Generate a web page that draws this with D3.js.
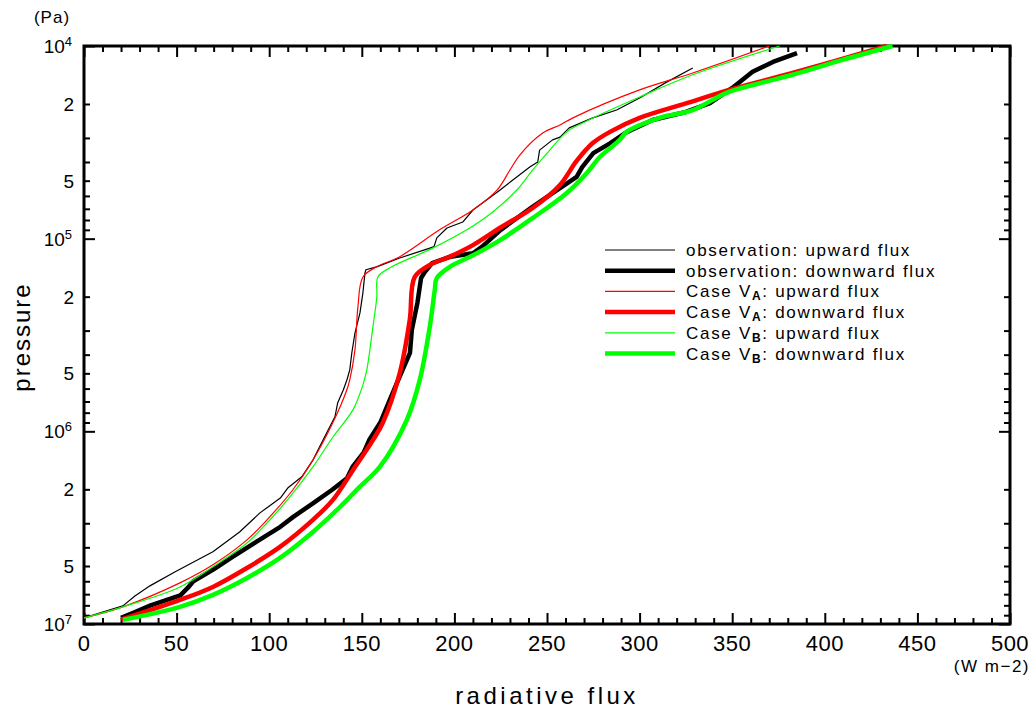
<!DOCTYPE html>
<html>
<head>
<meta charset="utf-8">
<script src="https://cdn.jsdelivr.net/npm/d3@7"></script>
<style>
  body { margin: 0; background: #fff; }
  text { font-family: "Liberation Sans", Arial, sans-serif; fill: #000; }
</style>
</head>
<body>
<div id="chart"></div>
<script>
// radiative flux (W m-2) vs pressure (Pa)
const obsUp = [
  [0, 9.3e6], [21, 8.05e6], [27.5, 7.15e6], [35.6, 6.34e6], [49, 5.37e6], [69.6, 4.22e6],
  [84, 3.33e6], [95, 2.65e6], [106, 2.22e6], [110, 1.97e6], [117.6, 1.72e6], [123.6, 1.41e6],
  [131, 1.02e6], [135.5, 8.4e5], [137, 7.1e5], [140, 6.1e5], [142, 5.4e5], [143.5, 4.8e5],
  [144.6, 3.92e5], [146.3, 3.09e5], [149, 2.43e5], [150.6, 1.91e5], [151.7, 1.51e5],
  [152.2, 1.45e5], [158, 1.40e5], [170.5, 1.26e5], [186.7, 1.12e5], [189, 1.10e5],
  [190.5, 9.9e4], [196, 8.8e4], [204.5, 8.2e4], [210, 7.1e4], [224.5, 5.6e4], [240.7, 4.25e4],
  [245, 4.0e4], [246, 3.47e4], [253, 3.07e4], [257, 2.97e4], [262, 2.66e4], [274.7, 2.36e4],
  [287.6, 2.15e4], [300, 1.86e4], [314.6, 1.54e4], [328.7, 1.30e4]
];
const obsDown = [
  [20, 9.3e6], [26, 8.8e6], [36, 8.0e6], [52, 7.1e6], [56, 6.5e6], [59, 6.0e6], [70, 5.2e6],
  [80, 4.5e6], [93, 3.75e6], [106, 3.13e6], [113, 2.78e6], [124, 2.35e6], [134, 2.01e6],
  [142, 1.75e6], [145, 1.53e6], [151, 1.29e6], [154, 1.11e6], [160, 9.0e5], [165, 6.9e5],
  [169, 5.6e5], [176, 3.92e5], [177, 2.98e5], [180, 2.16e5], [182, 1.6e5], [184, 1.49e5],
  [188, 1.34e5], [198, 1.24e5], [210, 1.19e5], [215, 1.10e5], [225, 9.0e4], [242, 6.85e4],
  [253, 5.8e4], [266, 4.78e4], [269, 4.25e4], [275, 3.6e4], [284, 3.2e4], [293, 2.8e4],
  [307, 2.42e4], [325, 2.2e4], [338, 1.98e4], [350, 1.65e4], [361, 1.36e4], [372, 1.21e4],
  [385, 1.09e4]
];
const vaUp = [
  [0, 9.3e6], [21, 8.15e6], [51.8, 6.12e6], [69.6, 4.93e6], [88, 3.66e6], [98.8, 2.88e6],
  [112.8, 2.01e6], [123.6, 1.41e6], [134.4, 9.0e5], [141.9, 6.1e5], [143.5, 5.41e5],
  [146.3, 3.78e5], [147.9, 2.26e5], [150.6, 1.58e5], [158, 1.40e5], [170.5, 1.24e5],
  [192, 9.0e4], [210, 7.1e4], [223, 5.6e4], [230, 4.4e4], [235.3, 3.68e4], [247.7, 2.83e4],
  [257, 2.57e4], [264, 2.36e4], [300, 1.69e4], [328.7, 1.38e4], [370, 1.0e4]
];
const vaDown = [
  [20, 9.5e6], [51.8, 7.5e6], [69.6, 6.42e6], [88, 5.12e6], [105.8, 3.98e6], [123.6, 2.88e6],
  [134.4, 2.27e6], [145.2, 1.59e6], [156, 1.11e6], [161.4, 9.0e5], [170.5, 4.98e5],
  [175.9, 2.64e5], [178.6, 1.58e5], [186.7, 1.37e5], [197.5, 1.24e5], [210, 1.08e5],
  [224.5, 8.8e4], [242.3, 6.93e4], [257, 5.26e4], [266, 3.95e4], [274.7, 3.19e4],
  [284, 2.79e4], [300, 2.36e4], [325.4, 1.98e4], [350.2, 1.67e4], [382.6, 1.38e4], [433.4, 1.0e4]
];
const vbUp = [
  [0, 9.3e6], [21, 8.15e6], [51.8, 6.42e6], [69.6, 5.05e6], [88, 3.8e6], [98.8, 2.99e6],
  [111.2, 2.19e6], [123.6, 1.53e6], [134.4, 1.07e6], [145.2, 7.74e5], [150.6, 5.74e5],
  [152.7, 4.8e5], [156, 2.87e5], [158.1, 2.01e5], [158.7, 1.58e5], [165, 1.42e5],
  [188.3, 1.12e5], [206.7, 9.0e4], [220.7, 7.27e4], [233.7, 5.59e4], [242.3, 4.4e4],
  [251.5, 3.47e4], [260.7, 2.79e4], [271.5, 2.45e4], [300, 1.84e4], [328.7, 1.41e4], [375.6, 1.0e4]
];
const vbDown = [
  [21, 9.5e6], [34, 8.97e6], [51.8, 8.15e6], [69.6, 7.06e6], [88, 5.77e6], [105.8, 4.54e6],
  [123.6, 3.33e6], [138.2, 2.47e6], [148.9, 1.94e6], [159.7, 1.53e6],
  [174.3, 8.73e5], [181.3, 5.41e5], [186.7, 2.87e5], [189.4, 1.85e5], [190.5, 1.60e5],
  [197.5, 1.40e5], [210, 1.22e5], [224.5, 1.02e5], [242.3, 7.81e4], [260.7, 5.79e4],
  [271.5, 4.56e4], [278.5, 3.77e4], [289.3, 3.07e4], [293, 2.79e4], [310.8, 2.36e4],
  [328.7, 2.15e4], [347, 1.75e4], [364.8, 1.56e4], [382.6, 1.41e4], [409.6, 1.18e4], [436.6, 1.0e4]
];

const xTicks = [0, 50, 100, 150, 200, 250, 300, 350, 400, 450, 500];
const yLabelTicks = [1e4, 2e4, 5e4, 1e5, 2e5, 5e5, 1e6, 2e6, 5e6, 1e7];

const series = [
  { name: "observation: upward flux", data: obsUp, color: "#000000", width: 1.2, smooth: false },
  { name: "observation: downward flux", data: obsDown, color: "#000000", width: 4.5, smooth: false },
  { name: "Case V", sub: "A", rest: ": upward flux", data: vaUp, color: "#ff0000", width: 1.2, smooth: true },
  { name: "Case V", sub: "A", rest: ": downward flux", data: vaDown, color: "#ff0000", width: 4.5, smooth: true },
  { name: "Case V", sub: "B", rest: ": upward flux", data: vbUp, color: "#00ff00", width: 1.2, smooth: true },
  { name: "Case V", sub: "B", rest: ": downward flux", data: vbDown, color: "#00ff00", width: 4.5, smooth: true }
];

const W = 1035, H = 715;
const box = { left: 84, right: 1010, top: 46, bottom: 624 };

const svg = d3.select("#chart").append("svg")
    .attr("width", W)
    .attr("height", H);

const x = d3.scaleLinear().domain([0, 500]).range([box.left, box.right]);
const y = d3.scaleLog().domain([1e4, 1e7]).range([box.top, box.bottom]);

const minorX = d3.range(0, 501, 10).filter(d => d % 50 !== 0);
const minorY = [];
[1e4, 1e5, 1e6].forEach(dec => { for (let k = 2; k <= 9; k++) minorY.push(dec * k); });
const majorY = [1e4, 1e5, 1e6, 1e7];

// ticks, all pointing into the plot
function ticks(axis, pos, vals, size) {
  const g = svg.append("g")
      .attr("transform", pos)
      .call(axis.tickValues(vals).tickSize(size).tickFormat(""));
  g.select(".domain").remove();
  g.selectAll("line").attr("stroke", "#000").attr("stroke-width", 2);
  return g;
}
ticks(d3.axisBottom(x), `translate(0,${box.bottom})`, minorX, -6);
ticks(d3.axisBottom(x), `translate(0,${box.bottom})`, xTicks, -11);
ticks(d3.axisTop(x), `translate(0,${box.top})`, minorX, -6);
ticks(d3.axisTop(x), `translate(0,${box.top})`, xTicks, -11);
ticks(d3.axisLeft(y), `translate(${box.left},0)`, minorY, -6);
ticks(d3.axisLeft(y), `translate(${box.left},0)`, majorY, -11);
ticks(d3.axisRight(y), `translate(${box.right},0)`, minorY, -6);
ticks(d3.axisRight(y), `translate(${box.right},0)`, majorY, -11);

// frame
svg.append("rect")
    .attr("x", box.left).attr("y", box.top)
    .attr("width", box.right - box.left).attr("height", box.bottom - box.top)
    .attr("fill", "none")
    .attr("stroke", "#000")
    .attr("stroke-width", 3);

// x tick labels
svg.selectAll(".xl")
  .data(xTicks)
  .enter().append("text")
    .attr("x", d => x(d))
    .attr("y", box.bottom + 27)
    .attr("text-anchor", "middle")
    .style("font-size", "22px")
    .style("letter-spacing", "0.5px")
    .text(d => d);

// y tick labels
const yl = svg.selectAll(".yl")
  .data(yLabelTicks)
  .enter().append("text")
    .attr("x", 72)
    .attr("y", d => y(d) + 7)
    .attr("text-anchor", "end")
    .style("font-size", "19px");
yl.each(function(d) {
  const e = Math.floor(Math.log10(d) + 1e-9);
  const m = Math.round(d / Math.pow(10, e));
  const t = d3.select(this);
  if (m === 1) {
    t.append("tspan").text("10");
    t.append("tspan").attr("dy", -7).style("font-size", "13px").text(e);
  } else {
    t.attr("x", 74).text(m);
  }
});

svg.append("text")
    .attr("x", 52).attr("y", 23)
    .attr("text-anchor", "middle")
    .style("font-size", "17px")
    .style("letter-spacing", "1px")
    .text("(Pa)");

svg.append("text")
    .attr("x", 1030).attr("y", 672)
    .attr("text-anchor", "end")
    .style("font-size", "17px")
    .style("letter-spacing", "1.5px")
    .text("(W m\u22122)");

svg.append("text")
    .attr("x", 547).attr("y", 704)
    .attr("text-anchor", "middle")
    .style("font-size", "24px")
    .style("letter-spacing", "3.5px")
    .text("radiative flux");

svg.append("text")
    .attr("transform", "translate(30,337) rotate(-90)")
    .attr("text-anchor", "middle")
    .style("font-size", "24px")
    .style("letter-spacing", "2px")
    .text("pressure");

// curves: observations are jagged, model cases are smooth
const line = d3.line()
    .x(d => x(d[0]))
    .y(d => y(d[1]));
const smoothLine = d3.line()
    .x(d => x(d[0]))
    .y(d => y(d[1]))
    .curve(d3.curveCatmullRom.alpha(0.5));

svg.selectAll(".curve")
  .data(series)
  .enter().append("path")
    .attr("class", "curve")
    .attr("d", d => d.smooth ? smoothLine(d.data) : line(d.data))
    .attr("fill", "none")
    .attr("stroke", d => d.color)
    .attr("stroke-width", d => d.width)
    .attr("stroke-linejoin", "round");

// legend
const legend = svg.append("g");
series.forEach((s, i) => {
  const ly = 250 + i * 20.7;
  legend.append("line")
      .attr("x1", 605).attr("x2", 675)
      .attr("y1", ly).attr("y2", ly)
      .attr("stroke", s.color)
      .attr("stroke-width", s.width);
  const t = legend.append("text")
      .attr("x", 686).attr("y", ly + 6)
      .style("font-size", "17px")
      .style("letter-spacing", "1.7px");
  t.append("tspan").text(s.name);
  if (s.sub) {
    t.append("tspan").attr("dy", 3).style("font-size", "12px").style("font-weight", "bold").text(s.sub);
    t.append("tspan").attr("dy", -3).text(s.rest);
  }
});
</script>
</body>
</html>
